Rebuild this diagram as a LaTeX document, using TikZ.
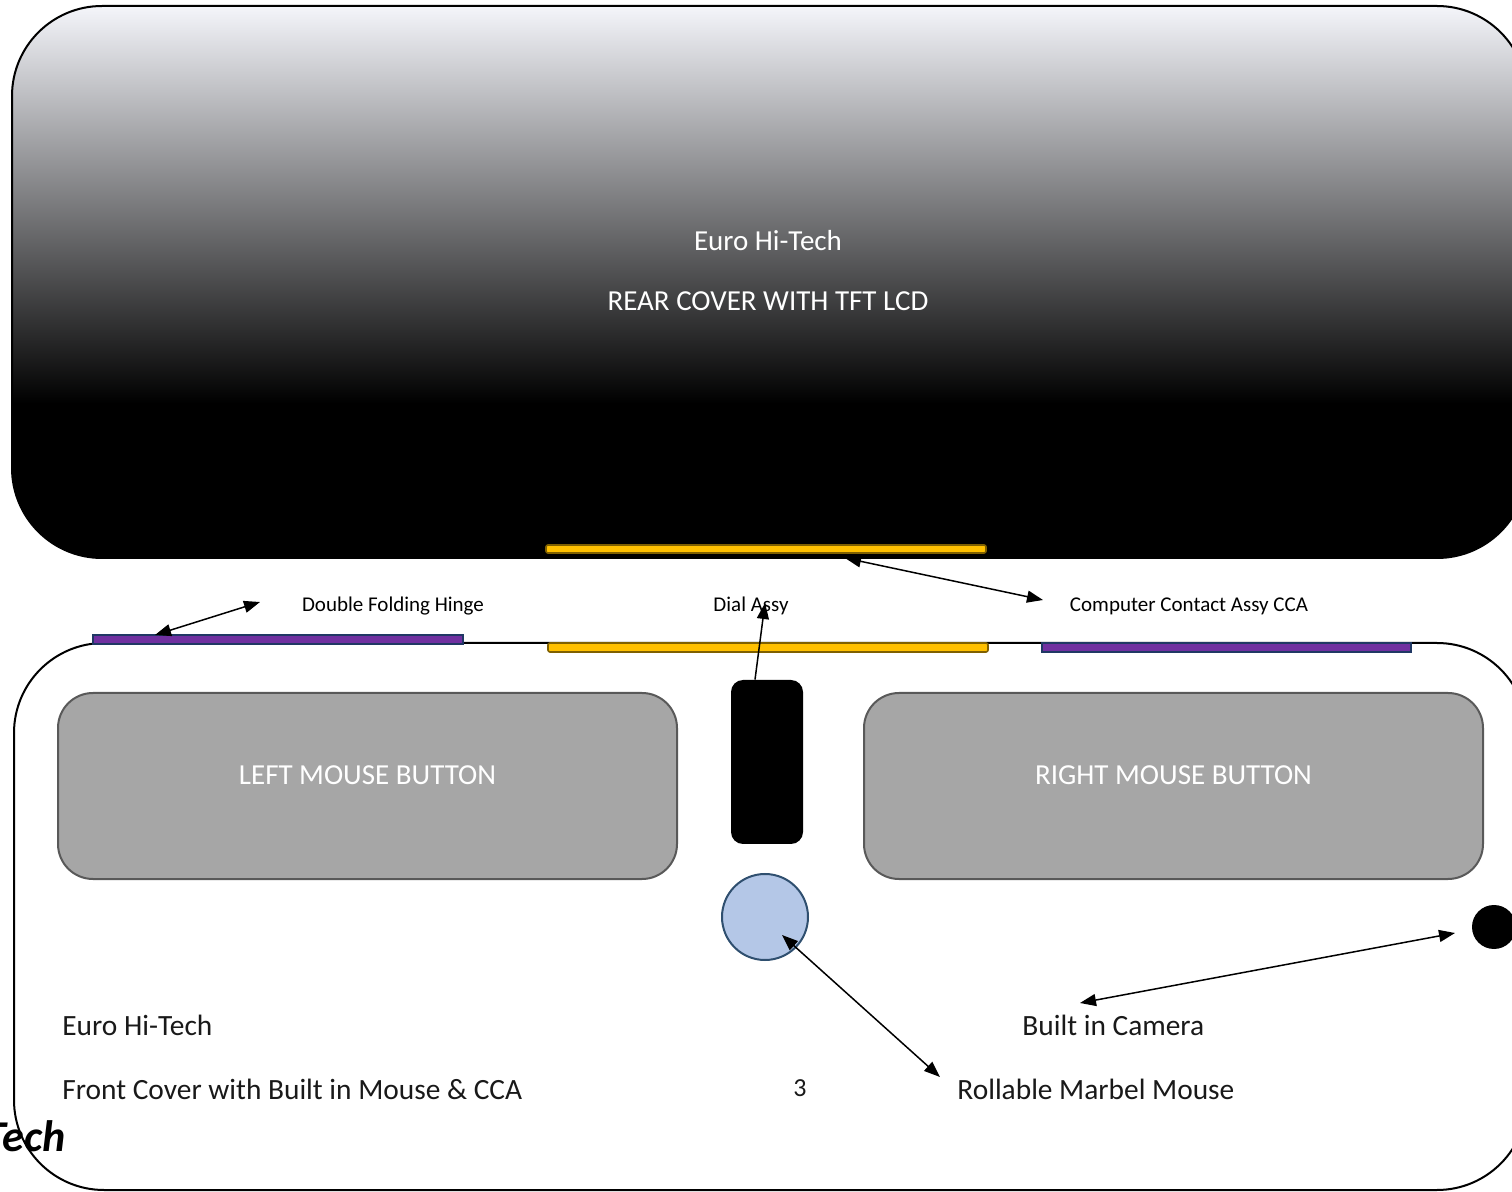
\documentclass[tikz,border=0pt]{standalone}
\usepackage{fontspec}
\setmainfont{Carlito}
\usetikzlibrary{arrows.meta}

\definecolor{gold}{HTML}{FFC000}
\definecolor{golddark}{HTML}{7F6000}
\definecolor{hingepurple}{HTML}{7030A0}
\definecolor{hingeedge}{HTML}{203864}
\definecolor{btngray}{HTML}{A6A6A6}
\definecolor{btnedge}{HTML}{595959}
\definecolor{marbleblue}{HTML}{B4C7E7}
\definecolor{marbleedge}{HTML}{2F4F6F}
\definecolor{reartop}{HTML}{F4F5FA}
\pgfdeclareverticalshading{rearshade}{100bp}{color(0bp)=(black); color(39bp)=(black); color(75bp)=(reartop); color(100bp)=(reartop)}

\begin{document}
\begin{tikzpicture}[
        x=0.5pt, y=-0.5pt,
        >={Triangle[length=8pt,width=6pt]},
        cover/.style={draw=black, line width=1pt, rounded corners=45pt, inner sep=0, outer sep=0},
        gstrip/.style={fill=gold, draw=golddark, line width=0.8pt, rounded corners=1pt, inner sep=0, minimum height=4.5pt},
        pstrip/.style={fill=hingepurple, draw=hingeedge, line width=1pt, inner sep=0, minimum height=4.5pt},
        button/.style={fill=btngray, draw=btnedge, line width=1pt, rounded corners=17.5pt, minimum width=309.5pt, minimum height=93pt},
        btntag/.style={text=white, font=\fontsize{14.5}{17}\selectfont},
        tag/.style={font=\fontsize{10.5}{12}\selectfont},
        bigtag/.style={inner sep=0, text=black!90, font=\fontsize{14.7}{17}\selectfont},
        link/.style={line width=0.75pt}
      ]
      \useasboundingbox (0,0) rectangle (1512,1192);

      % rear cover
      \node (rear) [cover, shade, shading=rearshade, minimum width=757.5pt, minimum height=276pt] at (769.5,282) {};
      \node (reartag) [text=white, align=center, font=\fontsize{14.5}{30}\selectfont] at (768,271) {Euro Hi-Tech\\REAR COVER WITH TFT LCD};

      % front cover
      \node (front) [cover, minimum width=756.5pt, minimum height=273.5pt] at (770.5,916.5) {};

      \node (ccatop) [gstrip, minimum width=220pt, minimum height=4pt] at (766,549) {};
      \node (ccabot) [gstrip, minimum width=220pt] at (768,647.5) {};
      \node (lhinge) [pstrip, minimum width=185pt] at (278,639.5) {};
      \node (rhinge) [pstrip, minimum width=184.5pt] at (1226.5,647.5) {};

      \node (lmb) [button] at (367.5,786) {};
      \node (rmb) [button] at (1173.5,786) {};
      \node (lmbtag) [btntag] at (367.5,775) {LEFT MOUSE BUTTON};
      \node (rmbtag) [btntag] at (1173.5,775) {RIGHT MOUSE BUTTON};
      \node (dial) [fill=black, rounded corners=6pt, minimum width=36pt, minimum height=82pt, inner sep=0] at (767,762) {};
      \node (marble) [circle, fill=marbleblue, draw=marbleedge, line width=1pt, minimum size=43pt, inner sep=0] at (765,917) {};
      \node (camera) [circle, fill=black, minimum size=22pt, inner sep=0] at (1494,927) {};

      % labels
      \node (hingetag) [tag] at (393,606) {Double Folding Hinge};
      \node (dialtag) [tag] at (751,606) {Dial Assy};
      \node (ccatag) [tag] at (1189,606) {Computer Contact Assy CCA};
      \node (fronttag) [bigtag, anchor=west] at (62,1025) {Euro Hi-Tech};
      \node (frontsub) [bigtag, anchor=west] at (62,1089) {Front Cover with Built in Mouse \& CCA};
      \node (pagenum) [bigtag, font=\fontsize{13}{15}\selectfont] at (800,1088) {3};
      \node (camtag) [bigtag, anchor=west] at (1022,1025) {Built in Camera};
      \node (marbletag) [bigtag, anchor=west] at (957,1089) {Rollable Marbel Mouse};
      \node (logo) [inner sep=0, anchor=east, font=\fontsize{22}{24}\selectfont\bfseries\itshape] at (66,1136) {Tech};

      \coordinate (hingetip) at (155,635);
      \coordinate (hingeend) at (260,602);
      \coordinate (ccatip) at (845,558);
      \coordinate (ccaend) at (1043,600);
      \coordinate (dialtip) at (765,603);
      \coordinate (marbletip) at (782,935);
      \coordinate (marbleend) at (940,1077);
      \coordinate (camend) at (1080,1003);
      \coordinate (camtip) at (1455,933);

      \draw[link, <->] (hingetip) -- (hingeend);
      \draw[link, <->] (ccatip) -- (ccaend);
      \draw[link, ->] ([xshift=-6pt]dial.north) -- (dialtip);
      \draw[link, <->] (marbletip) -- (marbleend);
      \draw[link, <->] (camend) -- (camtip);

    \end{tikzpicture}
\end{document}
